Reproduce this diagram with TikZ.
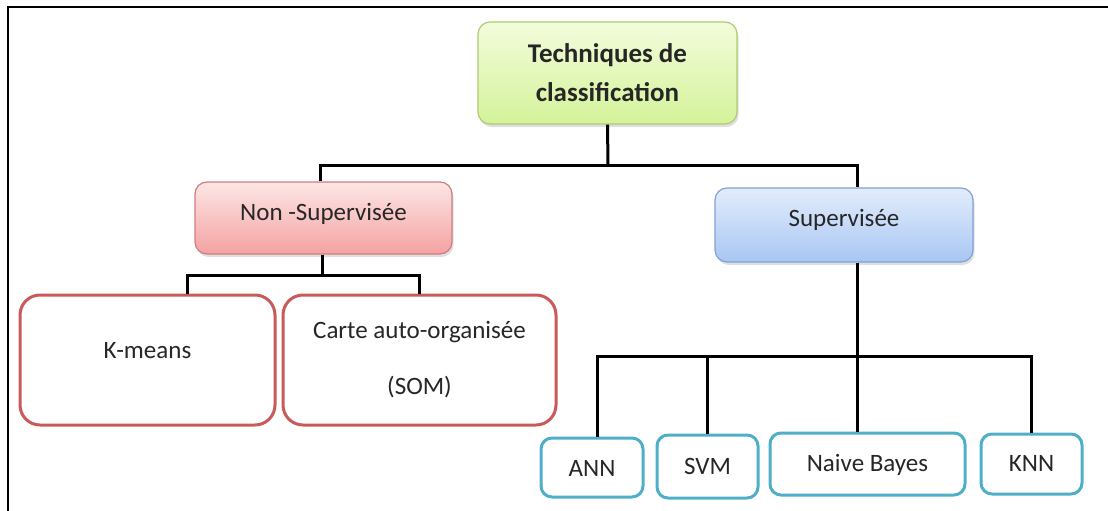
\documentclass[tikz,border=0pt]{standalone}
\usepackage{fontspec}
\setmainfont{Carlito}
\usetikzlibrary{shadows}
\definecolor{txt}{HTML}{262626}
\definecolor{rootA}{HTML}{F3FCDC}
\definecolor{rootB}{HTML}{D4F39A}
\definecolor{rootD}{HTML}{AFCB72}
\definecolor{redA}{HTML}{FDE6E6}
\definecolor{redB}{HTML}{F4A2A2}
\definecolor{redD}{HTML}{D27C7C}
\definecolor{bluA}{HTML}{E3EDFC}
\definecolor{bluB}{HTML}{A8C6F3}
\definecolor{bluD}{HTML}{7EA2D8}
\definecolor{redL}{HTML}{C85A5A}
\definecolor{cyanL}{HTML}{4FAFC9}
\tikzset{
  base/.style={rectangle, inner sep=0pt, align=center, text=txt, font=\fontsize{25}{30}\selectfont},
  grad/.style={base, line width=1.2pt, rounded corners=12pt,
    drop shadow={opacity=0.25, shadow xshift=1.5pt, shadow yshift=-3pt}},
  leafred/.style={base, draw=redL, line width=3pt, rounded corners=20pt, fill=white},
  leafcyan/.style={base, draw=cyanL, line width=3pt, rounded corners=11pt, fill=white},
  conn/.style={draw=black, line width=3pt},
  frame/.style={draw=black, line width=2pt}
}
\begin{document}
\begin{tikzpicture}[x=1pt,y=-1pt]
\useasboundingbox (0,0) rectangle (1108,511);
\draw[frame] (8,511) -- (8,7) -- (1108,7);
% nodes
\node[grad, draw=rootD, top color=rootA, bottom color=rootB, minimum width=259pt, minimum height=102pt,
  font=\fontsize{27}{39}\selectfont\bfseries] (root) at (607.5,73) {Techniques de\\classification};
\node[grad, draw=redD, top color=redA, bottom color=redB, minimum width=257pt, minimum height=72pt,
  text height=18pt, text depth=14pt] (nonsup) at (323.5,218) {Non -Supervisée};
\node[grad, draw=bluD, top color=bluA, bottom color=bluB, minimum width=258pt, minimum height=74pt,
  text height=18pt, text depth=16pt] (sup) at (844,225) {Supervisée};
\node[leafred, minimum width=255pt, minimum height=130pt, text height=18pt, text depth=22pt] (kmeans) at (147.5,360) {K-means};
\node[leafred, minimum width=273pt, minimum height=130pt] (carte) at (419.5,360) {Carte auto-organisée\\[26pt](SOM)};
\node[leafcyan, minimum width=102pt, minimum height=59pt, text height=18pt, text depth=0pt] (ann) at (592,467.5) {ANN};
\node[leafcyan, minimum width=101pt, minimum height=63pt, text height=18pt, text depth=2pt] (svm) at (707.5,466.5) {SVM};
\node[leafcyan, minimum width=195pt, minimum height=62pt, text height=18pt, text depth=4pt] (nb) at (867.5,464) {Naive Bayes};
\node[leafcyan, minimum width=101pt, minimum height=60pt, text height=18pt, text depth=4pt] (knn) at (1031.5,464) {KNN};
% connectors
\coordinate (b1) at (608,165);
\coordinate (b2) at (322,275);
\coordinate (b3) at (857,356);
\draw[conn] (root.south) -- (b1);
\draw[conn] ([xshift=-1.5pt]nonsup.north -| b2) |- (b1) -| (sup.north -| b3);
\draw[conn] (nonsup.south -| b2) -- (b2);
\draw[conn] ([xshift=39.5pt]kmeans.north) |- (b2) -| (carte.north);
\draw[conn] (sup.south -| b3) -- (nb.north -| b3);
\draw[conn] ([xshift=5pt]ann.north) |- (b3) -| (knn.north);
\draw[conn] (svm.north) -- (svm.north |- b3);
\end{tikzpicture}
\end{document}
